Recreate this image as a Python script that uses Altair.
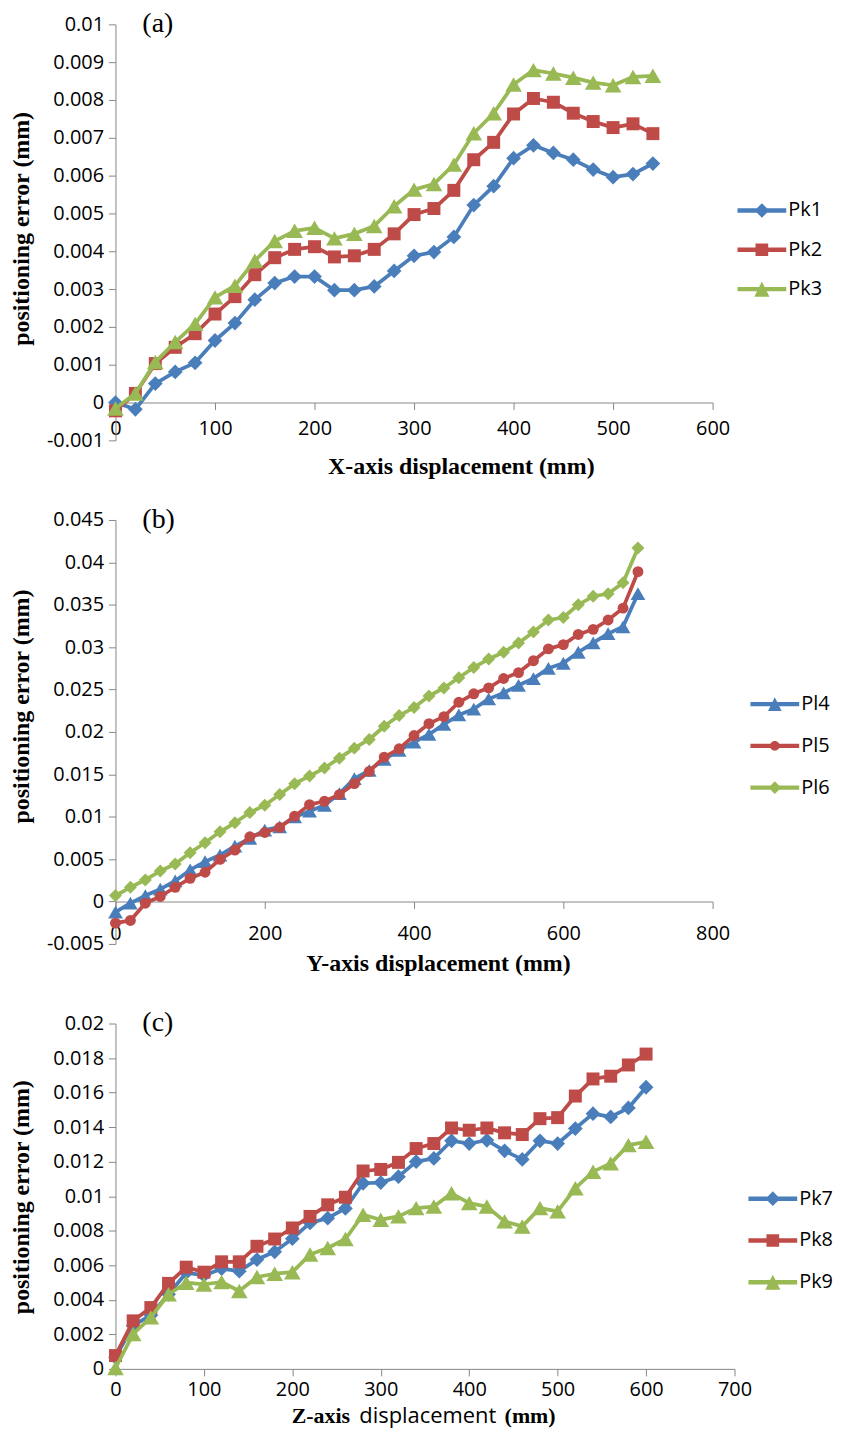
import altair as alt
import pandas as pd

# ---------------- data ----------------
# panel (a): X-axis
xa = [0, 20, 40, 60, 80, 100, 120, 140, 160, 180, 200, 220, 240, 260, 280, 300,
      320, 340, 360, 380, 400, 420, 440, 460, 480, 500, 520, 540]
pk1 = [0.0, -0.00018, 0.00050, 0.00081, 0.00105, 0.00164, 0.00210, 0.00272, 0.00316, 0.00333,
       0.00333, 0.00297, 0.00297, 0.00307, 0.00348, 0.00388, 0.00398, 0.00438, 0.00522, 0.00572,
       0.00646, 0.00680, 0.00660, 0.00642, 0.00616, 0.00596, 0.00604, 0.00632]
pk2 = [-0.00022, 0.00024, 0.00103, 0.00146, 0.00182, 0.00234, 0.00280, 0.00338, 0.00383, 0.00405,
       0.00412, 0.00385, 0.00388, 0.00405, 0.00446, 0.00497, 0.00513, 0.00561, 0.00642, 0.00688,
       0.00763, 0.00804, 0.00794, 0.00765, 0.00743, 0.00727, 0.00737, 0.00711]
pk3 = [-0.00016, 0.00024, 0.00107, 0.00160, 0.00208, 0.00278, 0.00309, 0.00375, 0.00427, 0.00454,
       0.00462, 0.00434, 0.00446, 0.00467, 0.00519, 0.00563, 0.00578, 0.00629, 0.00712, 0.00765,
       0.00841, 0.00879, 0.00870, 0.00859, 0.00846, 0.00839, 0.00861, 0.00864]

# panel (b): Y-axis
xb = [0, 20, 40, 60, 80, 100, 120, 140, 160, 180, 200, 220, 240, 260, 280, 300, 320, 340,
      360, 380, 400, 420, 440, 460, 480, 500, 520, 540, 560, 580, 600, 620, 640, 660, 680, 700]
pl4 = [-0.00125, -0.00020, 0.00070, 0.00145, 0.00243, 0.00372, 0.00470, 0.00548, 0.00654, 0.00744,
       0.00842, 0.00881, 0.00998, 0.01065, 0.01135, 0.01273, 0.01449, 0.01547, 0.01676, 0.01782,
       0.01880, 0.01970, 0.02090, 0.02200, 0.02270, 0.02390, 0.02460, 0.02550, 0.02630, 0.02750,
       0.02810, 0.02940, 0.03050, 0.03160, 0.03240, 0.03630]
pl5 = [-0.00255, -0.00223, -0.00020, 0.00059, 0.00168, 0.00274, 0.00345, 0.00497, 0.00607, 0.00764,
       0.00814, 0.00873, 0.01006, 0.01143, 0.01182, 0.01261, 0.01390, 0.01535, 0.01703, 0.01801,
       0.01958, 0.02098, 0.02180, 0.02350, 0.02450, 0.02520, 0.02630, 0.02700, 0.02840, 0.02980,
       0.03030, 0.03150, 0.03210, 0.03320, 0.03460, 0.03890]
pl6 = [0.00070, 0.00168, 0.00255, 0.00360, 0.00442, 0.00576, 0.00693, 0.00822, 0.00928, 0.01049,
       0.01135, 0.01261, 0.01390, 0.01480, 0.01574, 0.01691, 0.01809, 0.01911, 0.02067, 0.02193,
       0.02287, 0.02424, 0.02518, 0.02640, 0.02760, 0.02860, 0.02940, 0.03050, 0.03180, 0.03320,
       0.03350, 0.03500, 0.03600, 0.03630, 0.03760, 0.04170]

# panel (c): Z-axis
xc = [0, 20, 40, 60, 80, 100, 120, 140, 160, 180, 200, 220, 240, 260, 280, 300, 320, 340,
      360, 380, 400, 420, 440, 460, 480, 500, 520, 540, 560, 580, 600]
pk7 = [0.00067, 0.00250, 0.00311, 0.00432, 0.00557, 0.00541, 0.00580, 0.00566, 0.00633, 0.00678,
       0.00754, 0.00845, 0.00873, 0.00929, 0.01075, 0.01079, 0.01113, 0.01200, 0.01219, 0.01321,
       0.01305, 0.01324, 0.01263, 0.01213, 0.01321, 0.01305, 0.01392, 0.01478, 0.01459, 0.01511,
       0.01631]
pk8 = [0.00077, 0.00278, 0.00355, 0.00495, 0.00589, 0.00560, 0.00620, 0.00620, 0.00710, 0.00752,
       0.00816, 0.00883, 0.00950, 0.00994, 0.01146, 0.01155, 0.01196, 0.01276, 0.01305, 0.01395,
       0.01382, 0.01395, 0.01367, 0.01357, 0.01449, 0.01455, 0.01580, 0.01679, 0.01695, 0.01760,
       0.01823]
pk9 = [0.00005, 0.00202, 0.00298, 0.00432, 0.00499, 0.00489, 0.00503, 0.00451, 0.00532, 0.00551,
       0.00560, 0.00662, 0.00700, 0.00752, 0.00893, 0.00864, 0.00883, 0.00931, 0.00940, 0.01017,
       0.00960, 0.00940, 0.00854, 0.00825, 0.00931, 0.00912, 0.01046, 0.01142, 0.01190, 0.01296,
       0.01315]

names_a = ["Pk1", "Pk2", "Pk3"]
names_b = ["Pl4", "Pl5", "Pl6"]
names_c = ["Pk7", "Pk8", "Pk9"]

xticks_a = [0, 100, 200, 300, 400, 500, 600]
yticks_a = [-0.001, 0, 0.001, 0.002, 0.003, 0.004, 0.005, 0.006, 0.007, 0.008, 0.009, 0.01]
xticks_b = [0, 200, 400, 600, 800]
yticks_b = [-0.005, 0, 0.005, 0.01, 0.015, 0.02, 0.025, 0.03, 0.035, 0.04, 0.045]
xticks_c = [0, 100, 200, 300, 400, 500, 600, 700]
yticks_c = [0, 0.002, 0.004, 0.006, 0.008, 0.01, 0.012, 0.014, 0.016, 0.018, 0.02]

y_title = "positioning error (mm)"
x_title_a = "X-axis displacement (mm)"
x_title_b = "Y-axis displacement (mm)"
z_title_parts = ["Z-axis", "displacement", "(mm)"]
letters = ["(a)", "(b)", "(c)"]

# ---------------- styles ----------------
BLUE, RED, GREEN = "#4A7EBB", "#BE4B48", "#98B954"
LINE = "M-1,-0.09L1,-0.09L1,0.09L-1,0.09Z"
TICK_FONT = 20


def diamond(r):
    return f"M0,{-r}L{r},0L0,{r}L{-r},0Z"


def square(r):
    return f"M{-r},{-r}L{r},{-r}L{r},{r}L{-r},{r}Z"


def tri(r):
    return f"M0,{-r}L{r},{r}L{-r},{r}Z"


def circ(r):
    return f"M{-r},0A{r},{r} 0 1,1 {r},0A{r},{r} 0 1,1 {-r},0Z"


def make_df(xs, names, series):
    rows = []
    for n, vals in zip(names, series):
        for x, v in zip(xs, vals):
            rows.append({"x": x, "y": v, "series": n})
    return pd.DataFrame(rows)


LABEL_EXPR = "replace(format(datum.value, '.3~f'), '\u2212', '-')"


def panel(df, names, colors, shapes, sizes, leg_paths, xdom, xvals, ydom, yvals, w, h,
          xoffset, xlabpad, xtitle, xtitleX, xtitleY, ytitleY, legX, legY, rowPad, letter,
          extra=None, lw=3.75):
    xenc = alt.X("x:Q", scale=alt.Scale(domain=xdom, nice=False, zero=False),
                 axis=alt.Axis(values=xvals, offset=xoffset, title=xtitle,
                               titleX=xtitleX, titleY=xtitleY, titleBaseline="alphabetic",
                               labelPadding=xlabpad, tickSize=7, format="d"))
    yenc = alt.Y("y:Q", scale=alt.Scale(domain=ydom, nice=False, zero=False),
                 axis=alt.Axis(values=yvals, labelExpr=LABEL_EXPR, title=y_title,
                               titleX=-82, titleY=ytitleY, titleAngle=270,
                               titleBaseline="bottom", labelPadding=5, tickSize=7))
    base = alt.Chart(df)
    layers = []
    for n, c, s, sz in zip(names, colors, shapes, sizes):
        sub = base.transform_filter(alt.datum.series == n)
        layers.append(sub.mark_line(color=c, strokeWidth=lw, strokeJoin="round",
                                    strokeCap="round").encode(x=xenc, y=yenc))
        layers.append(sub.mark_point(shape=s, filled=True, size=sz, color=c, opacity=1,
                                     strokeWidth=0).encode(x=xenc, y=yenc))
    leg = alt.Legend(title=None, orient="none", legendX=legX, legendY=legY,
                     symbolSize=2401, symbolStrokeWidth=0, labelFont="Open Sans",
                     labelFontSize=TICK_FONT, labelColor="black", labelOffset=2,
                     rowPadding=rowPad, padding=0, symbolOpacity=1)
    dummy = base.transform_filter("false").mark_point(filled=True, size=2401).encode(
        x=xenc, y=yenc,
        color=alt.Color("series:N", scale=alt.Scale(domain=names, range=colors), legend=leg),
        shape=alt.Shape("series:N", scale=alt.Scale(domain=names, range=leg_paths), legend=leg),
    )
    layers.append(dummy)
    tdf = pd.DataFrame({"t": [letter]})
    layers.append(alt.Chart(tdf).mark_text(font="Liberation Serif", fontSize=28, align="left",
                                          baseline="alphabetic", color="black").encode(
        text="t:N", x=alt.value(27), y=alt.value(8)))
    if extra:
        layers.extend(extra)
    return alt.layer(*layers).properties(width=w, height=h)


df_a = make_df(xa, names_a, [pk1, pk2, pk3])
df_b = make_df(xb, names_b, [pl4, pl5, pl6])
df_c = make_df(xc, names_c, [pk7, pk8, pk9])

pa = panel(df_a, names_a, [BLUE, RED, GREEN], ["diamond", "square", "triangle-up"],
           [220, 170, 280],
           [LINE + diamond(0.3), LINE + square(0.26), LINE + tri(0.31)],
           [0, 600], xticks_a, [-0.001, 0.01], yticks_a, 600, 418,
           -38, 9, x_title_a, 347, 71, 205, 625, 162.5, 4.5, letters[0])

pb = panel(df_b, names_b, [BLUE, RED, GREEN], ["triangle-up", "circle", "diamond"],
           [220, 120, 170],
           [LINE + tri(0.28), LINE + circ(0.2), LINE + diamond(0.26)],
           [0, 800], xticks_b, [-0.005, 0.045], yticks_b, 600, 426,
           -42.6, 15, x_title_b, 324, 69, 187, 638, 160.5, 7, letters[1])

zdf = pd.DataFrame({"t": z_title_parts})
z1 = alt.Chart(zdf.iloc[[0]]).mark_text(font="Liberation Serif", fontWeight="bold", fontSize=22,
                                        align="left", baseline="alphabetic", color="black").encode(
    text="t:N", x=alt.value(177), y=alt.value(401))
z2 = alt.Chart(zdf.iloc[[1]]).mark_text(font="Open Sans", fontSize=22,
                                        align="left", baseline="alphabetic", color="black").encode(
    text="t:N", x=alt.value(245), y=alt.value(401))
z3 = alt.Chart(zdf.iloc[[2]]).mark_text(font="Liberation Serif", fontWeight="bold", fontSize=22,
                                        align="left", baseline="alphabetic", color="black").encode(
    text="t:N", x=alt.value(391), y=alt.value(401))

pc = panel(df_c, names_c, [BLUE, RED, GREEN], ["diamond", "square", "triangle-up"],
           [220, 170, 280],
           [LINE + diamond(0.3), LINE + square(0.26), LINE + tri(0.31)],
           [0, 700], xticks_c, [0, 0.02], yticks_c, 622, 347,
           0, 4, None, 311, 60, 174, 636, 151.5, 7, letters[2], extra=[z1, z2, z3])

chart = alt.vconcat(pa, pb, pc, spacing=80, bounds="flush").resolve_scale(
    color="independent", shape="independent", x="independent", y="independent"
).properties(
    padding={"left": 2, "top": -1, "right": 5, "bottom": 0}
).configure_view(stroke=None).configure_axis(
    domainColor="#868686", tickColor="#868686", domainWidth=1, tickWidth=1,
    grid=False, labelFont="Open Sans", labelFontSize=TICK_FONT, labelColor="black",
    titleFont="Liberation Serif", titleFontSize=24, titleFontWeight="bold",
    titleColor="black", labelFlush=False, labelOverlap=False, labelBound=False
)

chart.save("out.html", embed_options={"renderer": "svg", "actions": False})
